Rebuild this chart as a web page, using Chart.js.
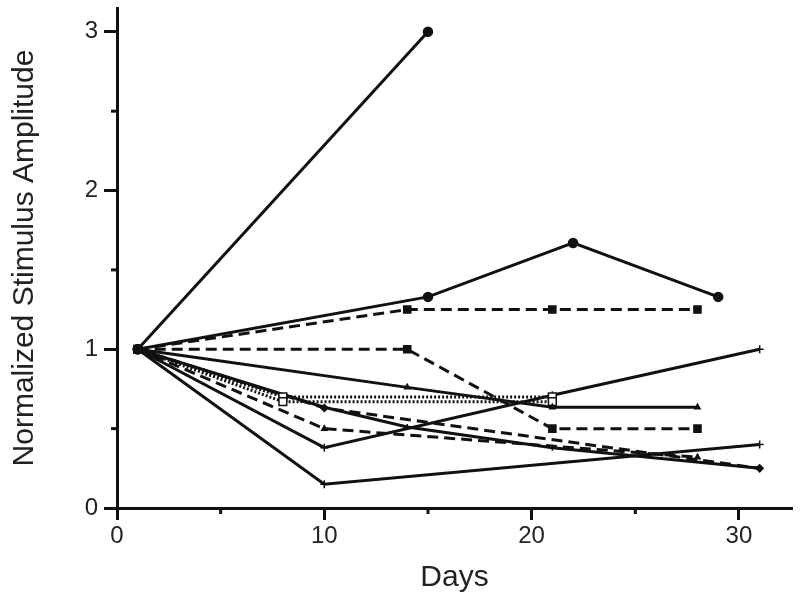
<!DOCTYPE html>
<html>
<head>
<meta charset="utf-8">
<script src="https://cdn.jsdelivr.net/npm/chart.js@4.4.1/dist/chart.umd.min.js"></script>
<style>
  body { margin: 0; background: #fff; }
</style>
</head>
<body>
<canvas id="ampChart" width="800" height="604"></canvas>
<script>
// days and normalized amplitudes, one pair of arrays per animal
const daysA = [1, 15];
const ampA  = [1, 3.0];
const daysB = [1, 15, 22, 29];
const ampB  = [1, 1.33, 1.67, 1.33];
const daysC = [1, 14, 21, 28];
const ampC  = [1, 1.25, 1.25, 1.25];
const daysD = [1, 14, 21, 28];
const ampD  = [1, 1.0, 0.5, 0.5];
const daysE = [1, 14, 21, 28];
const ampE  = [1, 0.76, 0.635, 0.635];
const daysF = [1, 8, 21];
const ampF  = [1, 0.67, 0.67];
const daysG = [1, 8, 21];
const ampG  = [1, 0.70, 0.70];
const daysH = [1, 10, 21, 31];
const ampH  = [1, 0.38, 0.71, 1.0];
const daysI = [1, 10, 31];
const ampI  = [1, 0.15, 0.40];
const daysJ = [1, 10, 28];
const ampJ  = [1, 0.50, 0.32];
const daysK = [1, 10, 31];
const ampK  = [1, 0.63, 0.25];
const daysL = [1, 10, 14, 21, 31];
const ampL  = [1, 0.635, 0.51, 0.38, 0.25];

const xTicks = [0, 10, 20, 30];
const yTicks = [0, 1, 2, 3];

const INK = '#111';
const SOLID = [];
const DASH = [11, 6];
const DOT = [2, 2];

function pts(days, amp) {
    return days.map(function (d, i) { return { x: d, y: amp[i] }; });
}

function series(days, amp, dash, style, radius, fill) {
    return {
        data: pts(days, amp),
        borderColor: INK,
        borderWidth: 3,
        borderDash: dash,
        pointStyle: style,
        pointRadius: radius,
        pointBackgroundColor: fill || INK,
        pointBorderColor: INK,
        pointBorderWidth: 1.5,
        fill: false,
        tension: 0
    };
}

// short ticks at the half steps
const minorTicks = {
    id: 'minorTicks',
    afterDraw: function (chart) {
        const ctx = chart.ctx;
        const xs = chart.scales.x, ys = chart.scales.y;
        const area = chart.chartArea;
        ctx.save();
        ctx.strokeStyle = INK;
        ctx.lineWidth = 3;
        [5, 15, 25].forEach(function (v) {
            const px = xs.getPixelForValue(v);
            ctx.beginPath();
            ctx.moveTo(px, area.bottom);
            ctx.lineTo(px, area.bottom + 6);
            ctx.stroke();
        });
        [0.5, 1.5, 2.5].forEach(function (v) {
            const py = ys.getPixelForValue(v);
            ctx.beginPath();
            ctx.moveTo(area.left, py);
            ctx.lineTo(area.left - 6, py);
            ctx.stroke();
        });
        ctx.restore();
    }
};

const tickFont = { family: "'Liberation Sans', Arial, sans-serif", size: 24 };
const titleFont = { family: "'Liberation Sans', Arial, sans-serif", size: 30 };

new Chart(document.getElementById('ampChart'), {
    type: 'line',
    data: {
        datasets: [
            series(daysA, ampA, SOLID, 'circle', 4.5),
            series(daysB, ampB, SOLID, 'circle', 4.5),
            series(daysC, ampC, DASH, 'rect', 5),
            series(daysD, ampD, DASH, 'rect', 5),
            series(daysE, ampE, SOLID, 'triangle', 3),
            series(daysF, ampF, DOT, 'rect', 5.5, '#fff'),
            series(daysG, ampG, DOT, 'rect', 5.5, '#fff'),
            series(daysH, ampH, SOLID, 'cross', 4),
            series(daysI, ampI, SOLID, 'cross', 4),
            series(daysJ, ampJ, DASH, 'triangle', 3),
            series(daysK, ampK, DASH, 'rectRot', 3.5),
            series(daysL, ampL, SOLID, 'cross', 3)
        ]
    },
    options: {
        responsive: false,
        animation: false,
        devicePixelRatio: 1,
        layout: { padding: { top: 8, right: 8, left: 0, bottom: 0 } },
        plugins: {
            legend: { display: false },
            tooltip: { enabled: false }
        },
        scales: {
            x: {
                type: 'linear',
                min: 0,
                max: 32.56,
                afterFit: function (scale) {
                    scale.height = 96;
                    scale.paddingLeft = 0;
                    scale.paddingRight = 0;
                },
                afterBuildTicks: function (scale) {
                    scale.ticks = xTicks.map(function (v) { return { value: v }; });
                },
                border: { display: true, color: INK, width: 3 },
                grid: { display: true, drawOnChartArea: false, color: INK, tickColor: INK, tickWidth: 3, tickLength: 12 },
                ticks: { color: '#222', font: tickFont, padding: 2, maxRotation: 0 },
                title: { display: true, text: 'Days', color: '#222', font: titleFont, padding: { top: 0, bottom: 8 } }
            },
            y: {
                min: 0,
                max: 3.15,
                afterFit: function (scale) {
                    scale.width = 117;
                    scale.paddingTop = 0;
                    scale.paddingBottom = 0;
                },
                afterBuildTicks: function (scale) {
                    scale.ticks = yTicks.map(function (v) { return { value: v }; });
                },
                border: { display: true, color: INK, width: 3 },
                grid: { display: true, drawOnChartArea: false, color: INK, tickColor: INK, tickWidth: 3, tickLength: 13 },
                ticks: { color: '#222', font: tickFont, padding: 6 },
                title: { display: true, text: 'Normalized Stimulus Amplitude', color: '#222', font: titleFont, padding: { top: 7, bottom: 0 } }
            }
        }
    },
    plugins: [minorTicks]
});
</script>
</body>
</html>
